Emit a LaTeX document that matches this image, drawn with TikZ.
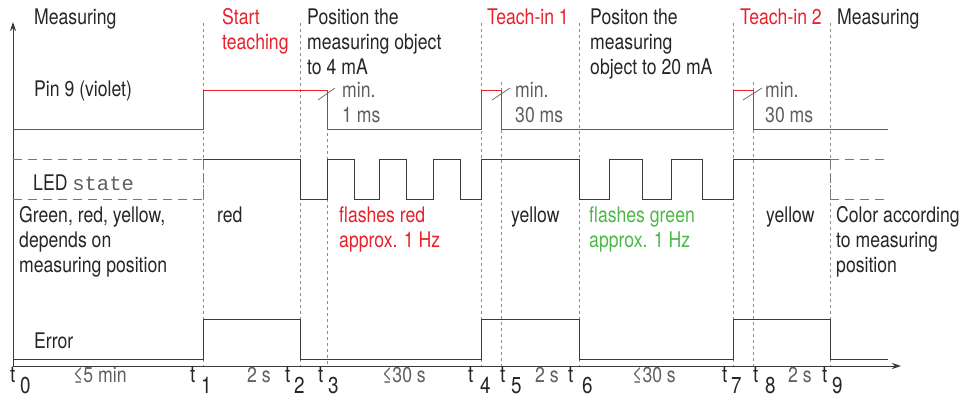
\documentclass[tikz,border=0pt]{standalone}
\usepackage{fontspec}
\setmainfont{TeX Gyre Heros}[FakeStretch=0.82]
\setmonofont{Liberation Mono}
\usetikzlibrary{arrows.meta}
\definecolor{tred}{HTML}{E8212B}
\definecolor{tgreen}{HTML}{4CB848}
\definecolor{sig}{HTML}{3A3A3A}
\definecolor{gridc}{HTML}{8C8C8C}
\definecolor{txt}{HTML}{262626}
\definecolor{note}{HTML}{5F5F5F}
\tikzset{
  lbl/.style={anchor=base west, inner sep=0pt, align=left, font=\fontsize{21.5}{25}\selectfont, text=txt},
  redlbl/.style={lbl, text=tred},
  greenlbl/.style={lbl, text=tgreen},
  notelbl/.style={lbl, text=note},
  tlbl/.style={anchor=base west, inner sep=0pt, font=\fontsize{23}{25}\selectfont, text=txt},
  gridline/.style={draw=gridc, line width=0.8pt, dash pattern=on 3pt off 3pt},
  boxdash/.style={draw=gridc!85!black, line width=1pt, dash pattern=on 9pt off 6pt},
  sigline/.style={draw=sig, line width=1pt},
  pinline/.style={draw=tred, line width=1pt},
  axisline/.style={draw=sig, line width=1pt, -{Stealth[length=9pt,width=6pt]}},
  slash/.style={draw=note, line width=0.7pt}
}
\begin{document}
\begin{tikzpicture}[x=1pt,y=-1pt]
\useasboundingbox (0,0) rectangle (967,397);
% grid lines
\foreach \x in {203,300,481,579,733,830} \draw[gridline] (\x,23) -- (\x,366);
\foreach \x in {501,753} \draw[gridline] (\x,82) -- (\x,366);
\draw[gridline] (327,91) -- (327,366);
% axes
\coordinate (O) at (13,366);
\coordinate (Ytop) at (13,22);
\coordinate (Xend) at (901,366);
\draw[axisline] (O) -- (Ytop);
\draw[axisline] (O) -- (Xend);
% pin 9 signal
\draw[pinline] (13,129) -- (203,129) -- (203,90) -- (327,90) -- (327,129) -- (481,129) -- (481,90) -- (501,90) -- (501,129) -- (733,129) -- (733,90) -- (753,90) -- (753,129) -- (888,129);
% slash marks
\draw[slash] (318,100) -- (335,88);
\draw[slash] (492,100) -- (510,88);
\draw[slash] (743,100) -- (762,88);
% LED dashed boxes
\draw[boxdash] (13,159) -- (203,159);
\draw[boxdash] (13,199) -- (203,199);
\draw[boxdash] (203,159) -- (203,199);
\draw[boxdash] (830,159) -- (888,159);
\draw[boxdash] (830,199) -- (888,199);
\draw[boxdash] (830,159) -- (830,199);
% LED signal
\draw[sigline] (203,159) -- (300,159) -- (300,199) -- (327,199) -- (327,159) -- (354,159) -- (354,199) -- (379,199) -- (379,159) -- (406,159) -- (406,199) -- (433,199) -- (433,159) -- (460,159) -- (460,199) -- (481,199) -- (481,159) -- (579,159) -- (579,199) -- (609,199) -- (609,159) -- (642,159) -- (642,199) -- (671,199) -- (671,159) -- (702,159) -- (702,199) -- (733,199) -- (733,159) -- (830,159);
% Error signal
\draw[sigline] (13,359) -- (203,359) -- (203,319) -- (300,319) -- (300,359) -- (481,359) -- (481,319) -- (579,319) -- (579,359) -- (733,359) -- (733,319) -- (830,319) -- (830,359) -- (888,359);
% header texts (multi-line nodes are placed by the baseline of their last line)
\node[lbl] (h0) at (34,24) {Measuring};
\node[redlbl] (h1) at (222,49) {Start\\teaching};
\node[lbl] (h2) at (307,74) {Position the\\measuring object\\to 4 mA};
\node[redlbl] (h3) at (487,24) {Teach-in 1};
\node[lbl] (h4) at (590,74) {Positon the\\measuring\\object to 20 mA};
\node[redlbl] (h5) at (740,24) {Teach-in 2};
\node[lbl] (h6) at (837,24) {Measuring};
% pin label and notes
\node[lbl] (pin) at (34,96) {Pin 9 (violet)};
\node[notelbl] (m1) at (342,122) {min.\\1 ms};
\node[notelbl] (m2) at (515,122) {min.\\30 ms};
\node[notelbl] (m3) at (765,122) {min.\\30 ms};
% LED texts
\node[lbl] (led) at (33,190) {LED {\fontsize{20.5}{25}\ttfamily\color{note}state}};
\node[lbl] (c0) at (19,272) {Green, red, yellow,\\depends on\\measuring position};
\node[lbl] (c1) at (217,222) {red};
\node[redlbl] (c2) at (339,247) {flashes red\\approx. 1 Hz};
\node[lbl] (c3) at (511,222) {yellow};
\node[greenlbl] (c4) at (589,247) {flashes green\\approx. 1 Hz};
\node[lbl] (c5) at (766,222) {yellow};
\node[lbl] (c6) at (836,272) {Color according\\to measuring\\position};
% Error
\node[lbl] (err) at (34,348) {Error};
% time axis labels
\foreach \n/\tx/\dx in {0/10/20, 1/190/201, 2/285/294, 3/318/328, 4/468/480, 5/500/511, 6/568/582, 7/722/731, 8/753/765, 9/822/832} {
  \node[tlbl] (t\n) at (\tx,382) {t};
  \node[tlbl] (d\n) at (\dx,393) {\n};
}
\node[notelbl] (i1) at (73,382) {≤5 min};
\node[notelbl] (i2) at (247,382) {2 s};
\node[notelbl] (i3) at (382,382) {≤30 s};
\node[notelbl] (i4) at (535,382) {2 s};
\node[notelbl] (i5) at (632,382) {≤30 s};
\node[notelbl] (i6) at (788,382) {2 s};
\end{tikzpicture}
\end{document}
